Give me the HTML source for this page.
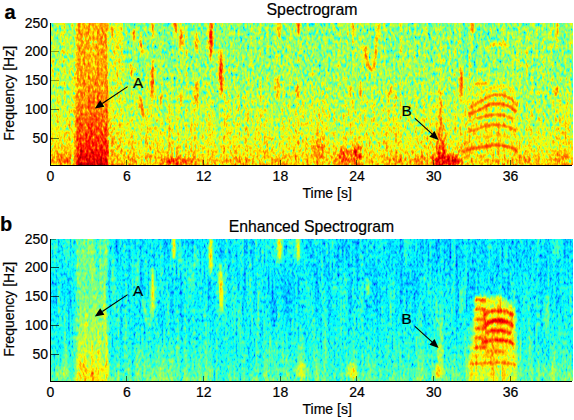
<!DOCTYPE html>
<html><head><meta charset="utf-8"><style>
html,body{margin:0;padding:0;background:#fff;width:574px;height:420px;overflow:hidden}
svg{display:block}
</style></head><body>
<svg width="574" height="420" viewBox="0 0 574 420">
<defs>
<filter id="ftop" filterUnits="userSpaceOnUse" x="45" y="17" width="534" height="154" color-interpolation-filters="sRGB">
<feGaussianBlur in="SourceGraphic" stdDeviation="0.8" result="b"/>
<feColorMatrix in="b" type="matrix" values="1 0 0 0 0 1 0 0 0 0 1 0 0 0 0 0 0 0 0 1" result="V"/>
<feColorMatrix in="b" type="matrix" values="0 1 0 0 0 0 1 0 0 0 0 1 0 0 0 0 0 0 0 1" result="M"/>
<feTurbulence type="fractalNoise" baseFrequency="0.42 0.22" numOctaves="2" seed="7" result="n"/>
<feColorMatrix in="n" type="matrix" values="1 0 0 0 0 1 0 0 0 0 1 0 0 0 0 0 0 0 0 1" result="ng0"/>
<feComponentTransfer in="ng0" result="ng"><feFuncR type="table" tableValues="0.05 0.17 0.28 0.37 0.44 0.5 0.546 0.59 0.632 0.674 0.717"/><feFuncG type="table" tableValues="0.05 0.17 0.28 0.37 0.44 0.5 0.546 0.59 0.632 0.674 0.717"/><feFuncB type="table" tableValues="0.05 0.17 0.28 0.37 0.44 0.5 0.546 0.59 0.632 0.674 0.717"/></feComponentTransfer>
<feComposite in="M" in2="ng" operator="arithmetic" k1="1" k2="-0.5" k3="0" k4="0.5" result="MN"/>
<feComposite in="V" in2="MN" operator="arithmetic" k1="0" k2="1" k3="1.0625" k4="-0.51625" result="F1"/>
<feTurbulence type="fractalNoise" baseFrequency="0.35 0.012" numOctaves="2" seed="12" result="st"/>
<feColorMatrix in="st" type="matrix" values="1 0 0 0 0 1 0 0 0 0 1 0 0 0 0 0 0 0 0 1" result="stg"/>
<feComposite in="M" in2="stg" operator="arithmetic" k1="1" k2="-0.5" k3="0" k4="0.5" result="MS"/>
<feComposite in="F1" in2="MS" operator="arithmetic" k1="0" k2="1" k3="0.25" k4="-0.125"/>
<feComponentTransfer>
<feFuncR type="table" tableValues="0 0 0 0 0.5 1 1 1 0.5"/>
<feFuncG type="table" tableValues="0 0 0.5 1 1 1 0.5 0 0"/>
<feFuncB type="table" tableValues="0.5 1 1 1 0.5 0 0 0 0"/>
<feFuncA type="linear" slope="0" intercept="1"/>
</feComponentTransfer>
</filter>
<filter id="fbot" filterUnits="userSpaceOnUse" x="45" y="233" width="534" height="154" color-interpolation-filters="sRGB">
<feGaussianBlur in="SourceGraphic" stdDeviation="0.8" result="b"/>
<feColorMatrix in="b" type="matrix" values="1 0 0 0 0 1 0 0 0 0 1 0 0 0 0 0 0 0 0 1" result="V"/>
<feColorMatrix in="b" type="matrix" values="0 1 0 0 0 0 1 0 0 0 0 1 0 0 0 0 0 0 0 1" result="M"/>
<feTurbulence type="fractalNoise" baseFrequency="0.5 0.22" numOctaves="2" seed="11" result="n"/>
<feColorMatrix in="n" type="matrix" values="1 0 0 0 0 1 0 0 0 0 1 0 0 0 0 0 0 0 0 1" result="ng0"/>
<feComponentTransfer in="ng0" result="ng"><feFuncR type="table" tableValues="0.05 0.17 0.28 0.37 0.44 0.5 0.546 0.59 0.632 0.674 0.717"/><feFuncG type="table" tableValues="0.05 0.17 0.28 0.37 0.44 0.5 0.546 0.59 0.632 0.674 0.717"/><feFuncB type="table" tableValues="0.05 0.17 0.28 0.37 0.44 0.5 0.546 0.59 0.632 0.674 0.717"/></feComponentTransfer>
<feComposite in="M" in2="ng" operator="arithmetic" k1="1" k2="-0.5" k3="0" k4="0.5" result="MN"/>
<feComposite in="V" in2="MN" operator="arithmetic" k1="0" k2="1" k3="0.6875" k4="-0.33375" result="F1"/>
<feTurbulence type="fractalNoise" baseFrequency="0.25 0.015" numOctaves="2" seed="16" result="st"/>
<feColorMatrix in="st" type="matrix" values="1 0 0 0 0 1 0 0 0 0 1 0 0 0 0 0 0 0 0 1" result="stg"/>
<feComposite in="M" in2="stg" operator="arithmetic" k1="1" k2="-0.5" k3="0" k4="0.5" result="MS"/>
<feComposite in="F1" in2="MS" operator="arithmetic" k1="0" k2="1" k3="0.27499999999999997" k4="-0.13749999999999998"/>
<feComponentTransfer>
<feFuncR type="table" tableValues="0 0 0 0 0.5 1 1 1 0.5"/>
<feFuncG type="table" tableValues="0 0 0.5 1 1 1 0.5 0 0"/>
<feFuncB type="table" tableValues="0.5 1 1 1 0.5 0 0 0 0"/>
<feFuncA type="linear" slope="0" intercept="1"/>
</feComponentTransfer>
</filter>
<filter id="stop" filterUnits="userSpaceOnUse" x="45" y="17" width="534" height="154" color-interpolation-filters="sRGB">
<feMorphology in="SourceGraphic" operator="dilate" radius="3" result="d"/>
<feComponentTransfer in="d" result="bo"><feFuncA type="linear" slope="0" intercept="1"/></feComponentTransfer>
<feGaussianBlur in="SourceAlpha" stdDeviation="0.9" result="b"/>
<feTurbulence type="fractalNoise" baseFrequency="0.42 0.25" numOctaves="2" seed="21" result="n"/>
<feColorMatrix in="n" type="matrix" values="1 0 0 0 0 1 0 0 0 0 1 0 0 0 0 0 0 0 0 1" result="ng"/>
<feComposite in="bo" in2="ng" operator="arithmetic" k1="0" k2="1" k3="0.25" k4="-0.125" result="s"/>
<feComponentTransfer>
<feFuncR type="table" tableValues="0 0 0 0 0.5 1 1 1 0.5"/>
<feFuncG type="table" tableValues="0 0 0.5 1 1 1 0.5 0 0"/>
<feFuncB type="table" tableValues="0.5 1 1 1 0.5 0 0 0 0"/>
<feFuncA type="linear" slope="0" intercept="1"/>
</feComponentTransfer>
<feComposite in2="b" operator="in"/>
</filter>
<filter id="sbot" filterUnits="userSpaceOnUse" x="45" y="233" width="534" height="154" color-interpolation-filters="sRGB">
<feMorphology in="SourceGraphic" operator="dilate" radius="3" result="d"/>
<feComponentTransfer in="d" result="bo"><feFuncA type="linear" slope="0" intercept="1"/></feComponentTransfer>
<feGaussianBlur in="SourceAlpha" stdDeviation="0.9" result="b"/>
<feTurbulence type="fractalNoise" baseFrequency="0.42 0.25" numOctaves="2" seed="23" result="n"/>
<feColorMatrix in="n" type="matrix" values="1 0 0 0 0 1 0 0 0 0 1 0 0 0 0 0 0 0 0 1" result="ng"/>
<feComposite in="bo" in2="ng" operator="arithmetic" k1="0" k2="1" k3="0.25" k4="-0.125" result="s"/>
<feComponentTransfer>
<feFuncR type="table" tableValues="0 0 0 0 0.5 1 1 1 0.5"/>
<feFuncG type="table" tableValues="0 0 0.5 1 1 1 0.5 0 0"/>
<feFuncB type="table" tableValues="0.5 1 1 1 0.5 0 0 0 0"/>
<feFuncA type="linear" slope="0" intercept="1"/>
</feComponentTransfer>
<feComposite in2="b" operator="in"/>
</filter>
<filter id="soft2" x="-20%" y="-20%" width="140%" height="140%"><feGaussianBlur stdDeviation="1.6"/></filter>
<filter id="soft4" x="-30%" y="-30%" width="160%" height="160%"><feGaussianBlur stdDeviation="4"/></filter>
<clipPath id="ctop"><rect x="51" y="23" width="522" height="142"/></clipPath>
<clipPath id="cbot"><rect x="51" y="239" width="522" height="142"/></clipPath>
<linearGradient id="tbg" x1="0" y1="0" x2="0" y2="1"><stop offset="0" stop-color="#80cc00"/><stop offset="0.4" stop-color="#85cc00"/><stop offset="0.62" stop-color="#8fcc00"/><stop offset="0.75" stop-color="#95cc00"/><stop offset="0.85" stop-color="#9ccc00"/><stop offset="0.93" stop-color="#a6cc00"/><stop offset="1" stop-color="#b0cc00"/></linearGradient><linearGradient id="tleft" x1="0" y1="0" x2="0" y2="1"><stop offset="0" stop-color="#87cc00"/><stop offset="0.5" stop-color="#8fcc00"/><stop offset="0.75" stop-color="#9ccc00"/><stop offset="0.9" stop-color="#a8cc00"/><stop offset="1" stop-color="#b5cc00"/></linearGradient><linearGradient id="tA" x1="0" y1="0" x2="0" y2="1"><stop offset="0" stop-color="#b19900"/><stop offset="0.3" stop-color="#b29900"/><stop offset="0.55" stop-color="#bb9900"/><stop offset="0.72" stop-color="#c79900"/><stop offset="0.84" stop-color="#d49900"/><stop offset="0.9" stop-color="#de9900"/><stop offset="0.95" stop-color="#e89900"/><stop offset="1" stop-color="#f09900"/></linearGradient><linearGradient id="tAr" x1="0" y1="0" x2="0" y2="1"><stop offset="0" stop-color="#91cc00"/><stop offset="0.6" stop-color="#96cc00"/><stop offset="1" stop-color="#b0cc00"/></linearGradient><linearGradient id="tB" x1="0" y1="0" x2="0" y2="1"><stop offset="0" stop-color="#8acc00"/><stop offset="0.3" stop-color="#94cc00"/><stop offset="0.5" stop-color="#a8cc00"/><stop offset="0.65" stop-color="#c2cc00"/><stop offset="0.82" stop-color="#d9cc00"/><stop offset="1" stop-color="#ebcc00"/></linearGradient><radialGradient id="r86"><stop offset="0" stop-color="#dbcc00"/><stop offset="0.55" stop-color="#dbcc00" stop-opacity="0.75"/><stop offset="1" stop-color="#dbcc00" stop-opacity="0"/></radialGradient><radialGradient id="r88"><stop offset="0" stop-color="#e0cc00"/><stop offset="0.55" stop-color="#e0cc00" stop-opacity="0.75"/><stop offset="1" stop-color="#e0cc00" stop-opacity="0"/></radialGradient><radialGradient id="r70"><stop offset="0" stop-color="#b2cc00"/><stop offset="0.55" stop-color="#b2cc00" stop-opacity="0.75"/><stop offset="1" stop-color="#b2cc00" stop-opacity="0"/></radialGradient><radialGradient id="r82"><stop offset="0" stop-color="#d1cc00"/><stop offset="0.55" stop-color="#d1cc00" stop-opacity="0.75"/><stop offset="1" stop-color="#d1cc00" stop-opacity="0"/></radialGradient><radialGradient id="r76"><stop offset="0" stop-color="#c2cc00"/><stop offset="0.55" stop-color="#c2cc00" stop-opacity="0.75"/><stop offset="1" stop-color="#c2cc00" stop-opacity="0"/></radialGradient><radialGradient id="r74"><stop offset="0" stop-color="#bdcc00"/><stop offset="0.55" stop-color="#bdcc00" stop-opacity="0.75"/><stop offset="1" stop-color="#bdcc00" stop-opacity="0"/></radialGradient><radialGradient id="r72"><stop offset="0" stop-color="#b8cc00"/><stop offset="0.55" stop-color="#b8cc00" stop-opacity="0.75"/><stop offset="1" stop-color="#b8cc00" stop-opacity="0"/></radialGradient><radialGradient id="r80"><stop offset="0" stop-color="#cccc00"/><stop offset="0.55" stop-color="#cccc00" stop-opacity="0.75"/><stop offset="1" stop-color="#cccc00" stop-opacity="0"/></radialGradient><linearGradient id="tHbg" x1="0" y1="0" x2="0" y2="1"><stop offset="0" stop-color="#8ccc00"/><stop offset="0.5" stop-color="#94cc00"/><stop offset="1" stop-color="#9ecc00"/></linearGradient><linearGradient id="bbg" x1="0" y1="0" x2="0" y2="1"><stop offset="0" stop-color="#5bcc00"/><stop offset="0.45" stop-color="#5dcc00"/><stop offset="0.68" stop-color="#63cc00"/><stop offset="0.84" stop-color="#6ecc00"/><stop offset="1" stop-color="#7dcc00"/></linearGradient><linearGradient id="bL" x1="0" y1="0" x2="0" y2="1"><stop offset="0" stop-color="#5ecc00"/><stop offset="0.7" stop-color="#63cc00"/><stop offset="1" stop-color="#75cc00"/></linearGradient><linearGradient id="bA" x1="0" y1="0" x2="0" y2="1"><stop offset="0" stop-color="#75cc00"/><stop offset="0.4" stop-color="#7acc00"/><stop offset="0.6" stop-color="#87cc00"/><stop offset="0.8" stop-color="#91cc00"/><stop offset="0.92" stop-color="#9ccc00"/><stop offset="1" stop-color="#a8cc00"/></linearGradient><linearGradient id="bR" x1="0" y1="0" x2="0" y2="1"><stop offset="0" stop-color="#58cc00"/><stop offset="0.6" stop-color="#59cc00"/><stop offset="1" stop-color="#5dcc00"/></linearGradient><linearGradient id="bH" x1="0" y1="0" x2="0" y2="1"><stop offset="0" stop-color="#99cc00"/><stop offset="0.3" stop-color="#9ecc00"/><stop offset="1" stop-color="#a1cc00"/></linearGradient><linearGradient id="bH2" x1="0" y1="0" x2="0" y2="1"><stop offset="0" stop-color="#99cc00"/><stop offset="1" stop-color="#8fcc00"/></linearGradient><radialGradient id="r66"><stop offset="0" stop-color="#a8cc00"/><stop offset="0.55" stop-color="#a8cc00" stop-opacity="0.75"/><stop offset="1" stop-color="#a8cc00" stop-opacity="0"/></radialGradient><radialGradient id="r62"><stop offset="0" stop-color="#9ecc00"/><stop offset="0.55" stop-color="#9ecc00" stop-opacity="0.75"/><stop offset="1" stop-color="#9ecc00" stop-opacity="0"/></radialGradient><radialGradient id="r60"><stop offset="0" stop-color="#99cc00"/><stop offset="0.55" stop-color="#99cc00" stop-opacity="0.75"/><stop offset="1" stop-color="#99cc00" stop-opacity="0"/></radialGradient><radialGradient id="r55"><stop offset="0" stop-color="#8ccc00"/><stop offset="0.55" stop-color="#8ccc00" stop-opacity="0.75"/><stop offset="1" stop-color="#8ccc00" stop-opacity="0"/></radialGradient><radialGradient id="r57"><stop offset="0" stop-color="#94cc00"/><stop offset="0.55" stop-color="#94cc00" stop-opacity="0.75"/><stop offset="1" stop-color="#94cc00" stop-opacity="0"/></radialGradient><radialGradient id="r50"><stop offset="0" stop-color="#80cc00"/><stop offset="0.55" stop-color="#80cc00" stop-opacity="0.75"/><stop offset="1" stop-color="#80cc00" stop-opacity="0"/></radialGradient><radialGradient id="r48"><stop offset="0" stop-color="#7acc00"/><stop offset="0.55" stop-color="#7acc00" stop-opacity="0.75"/><stop offset="1" stop-color="#7acc00" stop-opacity="0"/></radialGradient>
</defs>
<g clip-path="url(#ctop)"><g filter="url(#ftop)">
<rect x="43" y="15" width="538" height="158" fill="url(#tbg)"/>
<rect x="43" y="15" width="33" height="158" fill="url(#tleft)"/>
<rect x="76" y="15" width="32" height="158" fill="url(#tA)"/>
<rect x="108" y="15" width="14" height="158" fill="url(#tAr)"/>
<rect x="437" y="88" width="9" height="85" fill="url(#tB)"/>
<ellipse cx="452" cy="161" rx="13" ry="9" fill="url(#r86)"/>
<ellipse cx="440" cy="160" rx="12" ry="8" fill="url(#r88)"/>
<ellipse cx="462" cy="150" rx="7" ry="12" fill="url(#r70)" opacity="0.7"/>
<ellipse cx="175" cy="162" rx="16" ry="7" fill="url(#r82)"/>
<ellipse cx="190" cy="160" rx="10" ry="6" fill="url(#r76)" opacity="0.8"/>
<ellipse cx="162" cy="160" rx="8" ry="6" fill="url(#r74)" opacity="0.8"/>
<ellipse cx="318" cy="150" rx="10" ry="18" fill="url(#r72)" opacity="0.8"/>
<ellipse cx="343" cy="157" rx="10" ry="12" fill="url(#r80)"/>
<ellipse cx="356" cy="155" rx="8" ry="13" fill="url(#r80)"/>
<ellipse cx="395" cy="160" rx="14" ry="6" fill="url(#r74)" opacity="0.8"/>
<ellipse cx="420" cy="160" rx="10" ry="6" fill="url(#r76)" opacity="0.8"/>
<ellipse cx="130" cy="160" rx="8" ry="6" fill="url(#r72)" opacity="0.7"/>
<ellipse cx="240" cy="160" rx="12" ry="5" fill="url(#r72)" opacity="0.8"/>
<ellipse cx="280" cy="160" rx="10" ry="6" fill="url(#r72)" opacity="0.8"/>
<ellipse cx="525" cy="160" rx="12" ry="5" fill="url(#r74)" opacity="0.7"/>
<ellipse cx="560" cy="158" rx="12" ry="7" fill="url(#r74)" opacity="0.8"/>
<ellipse cx="63" cy="158" rx="12" ry="8" fill="url(#r76)" opacity="0.8"/>
<path d="M111.7,18 Q109.1,30.0 111.7,42 Q114.3,30.0 111.7,18Z" fill="#bf8000"/>
<path d="M134,26 Q131.5,34.6 134.5,43 Q137.0,34.4 134,26Z" fill="#c98000"/>
<path d="M139,33 Q138.0,46.0 143,58 Q144.0,45.0 139,33Z" fill="#c98000"/>
<path d="M131.3,62 Q128.6,69.5 131.5,77 Q134.2,69.5 131.3,62Z" fill="#c98000"/>
<path d="M152.5,58 Q148.9,81.0 152,104 Q155.6,81.0 152.5,58Z" fill="#d48000"/>
<path d="M152.5,18 Q149.7,29.0 152.5,40 Q155.3,29.0 152.5,18Z" fill="#c48000"/>
<path d="M175.7,16 Q172.3,27.0 175.7,38 Q179.1,27.0 175.7,16Z" fill="#cf8000"/>
<path d="M181,25 Q178.3,39.1 181.5,53 Q184.2,38.9 181,25Z" fill="#c98000"/>
<path d="M181,90 Q178.2,99.0 181,108 Q183.8,99.0 181,90Z" fill="#c48000"/>
<path d="M196.6,30 Q193.6,42.0 196.6,54 Q199.6,42.0 196.6,30Z" fill="#c78000"/>
<path d="M196.6,77 Q193.6,94.5 196.6,112 Q199.6,94.5 196.6,77Z" fill="#c78000"/>
<path d="M211,14 Q206.9,38.0 210.7,62 Q214.8,38.0 211,14Z" fill="#de8000"/>
<path d="M220.6,45 Q217.1,73.1 221.5,101 Q225.0,72.9 220.6,45Z" fill="#db8000"/>
<path d="M161.4,90 Q159.0,99.0 161.4,108 Q163.8,99.0 161.4,90Z" fill="#ba8000"/>
<path d="M139,93 Q138.9,108.1 145,122 Q145.1,106.9 139,93Z" fill="#c98000"/>
<path d="M279.5,16 Q276.5,29.0 279.5,42 Q282.5,29.0 279.5,16Z" fill="#c48000"/>
<path d="M298.2,16 Q294.8,27.0 298.2,38 Q301.6,27.0 298.2,16Z" fill="#cc8000"/>
<path d="M277.7,72 Q274.9,87.0 278,102 Q280.8,87.0 277.7,72Z" fill="#c78000"/>
<path d="M297.3,82 Q294.3,91.0 297.3,100 Q300.3,91.0 297.3,82Z" fill="#c78000"/>
<path d="M352.7,16 Q350.1,27.0 352.7,38 Q355.3,27.0 352.7,16Z" fill="#bf8000"/>
<path d="M360.7,82 Q358.1,91.0 360.7,100 Q363.3,91.0 360.7,82Z" fill="#bf8000"/>
<path d="M472.7,16 Q469.5,26.5 473,37 Q476.2,26.5 472.7,16Z" fill="#cc8000"/>
<path d="M462,64 Q457.3,83.9 460.5,104 Q465.2,84.1 462,64Z" fill="#c98000"/>
<path d="M556.8,16 Q553.4,34.0 556.8,52 Q560.2,34.0 556.8,16Z" fill="#b58000"/>
<path d="M556,85 Q552.8,91.5 556,98 Q559.2,91.5 556,85Z" fill="#c48000"/>
<path d="M440.5,80 Q437.9,115.0 440.5,150 Q443.1,115.0 440.5,80Z" fill="#c48000"/>
<path d="M386,99 Q392.9,92.4 395,83 Q388.1,89.6 386,99Z" fill="#bf8000"/>
<path d="M349.5,84 Q347.2,91.6 350,99 Q352.3,91.4 349.5,84Z" fill="#bf8000"/>
<path d="M365.5,48.0 C365.7,50.0 365.9,56.8 366.5,60.0 C367.1,63.2 368.0,65.3 369.0,67.0 C370.0,68.7 371.9,69.5 372.5,70.0" fill="none" stroke="#bf8000" stroke-width="3.4" stroke-linecap="round"/>
<path d="M372.5,70.0 C372.9,68.0 374.3,62.7 375.0,58.0 C375.7,53.3 376.1,47.5 376.6,42.0 C377.1,36.5 377.8,27.8 378.0,25.0" fill="none" stroke="#ba8000" stroke-width="2.8" stroke-linecap="round"/>
<path d="M486.0,48.5 C487.2,47.9 490.5,45.7 493.0,45.0 C495.5,44.3 498.3,44.2 501.0,44.5 C503.7,44.8 507.7,46.2 509.0,46.5" fill="none" stroke="#ad9900" stroke-width="2.8" stroke-linecap="round"/>
<rect x="466" y="78" width="52" height="80" fill="url(#tHbg)" opacity="0.9"/>
<path d="M475.1,84.4 C475.9,84.3 478.2,84.0 480.0,83.8 C481.8,83.6 484.9,83.5 485.9,83.4" fill="none" stroke="#c22600" stroke-width="2.4960000000000004" stroke-linecap="round"/>
<path d="M474.0,95.0 C476.2,94.2 483.2,92.0 487.0,90.5 C490.8,89.0 493.5,86.5 497.0,86.0 C500.5,85.5 505.0,86.3 508.0,87.5 C511.0,88.7 513.8,92.1 515.0,93.0" fill="none" stroke="#ab2600" stroke-width="2.028" stroke-linecap="round"/>
<path d="M471.0,107.5 C472.2,106.7 475.7,104.0 478.0,102.5 C480.3,101.0 482.6,99.7 485.0,98.5 C487.4,97.3 490.2,96.2 492.4,95.5 C494.6,94.8 495.8,94.5 498.0,94.6 C500.2,94.7 503.1,95.1 505.4,96.0 C507.7,96.9 510.1,98.3 512.0,100.0 C513.9,101.7 515.8,105.0 516.6,106.0" fill="none" stroke="#c92600" stroke-width="2.964" stroke-linecap="round"/>
<path d="M469.0,113.5 C470.5,113.0 474.6,112.0 478.0,110.5 C481.4,109.0 486.7,105.7 489.5,104.6 C492.3,103.5 492.9,104.0 495.0,103.9 C497.1,103.8 499.5,103.5 502.0,104.0 C504.5,104.5 507.7,105.5 510.0,106.8 C512.3,108.0 515.0,110.7 516.0,111.5" fill="none" stroke="#cf2600" stroke-width="3.2760000000000002" stroke-linecap="round"/>
<path d="M476.3,118.2 C477.6,117.9 481.6,116.8 484.0,116.3 C486.4,115.8 488.5,115.3 491.0,115.0 C493.5,114.7 496.5,114.5 499.0,114.6 C501.5,114.7 503.7,115.1 506.0,115.8 C508.3,116.5 511.5,118.0 512.6,118.5" fill="none" stroke="#c72600" stroke-width="2.8080000000000003" stroke-linecap="round"/>
<path d="M469.6,131.4 C470.8,131.0 474.6,130.0 477.0,129.2 C479.4,128.4 481.4,127.2 484.0,126.5 C486.6,125.8 489.7,125.2 492.4,125.0 C495.1,124.8 497.6,124.8 500.0,125.0 C502.4,125.2 504.4,125.5 507.0,126.4 C509.6,127.3 513.9,129.6 515.3,130.2" fill="none" stroke="#c92600" stroke-width="2.964" stroke-linecap="round"/>
<path d="M476.0,138.0 C477.7,137.7 482.8,136.4 486.0,136.0 C489.2,135.6 492.0,135.3 495.0,135.3 C498.0,135.3 501.3,135.4 504.0,135.8 C506.7,136.2 509.8,137.5 511.0,137.8" fill="none" stroke="#b02600" stroke-width="2.1839999999999997" stroke-linecap="round"/>
<path d="M464.3,151.2 C465.6,150.8 469.4,149.7 472.0,149.0 C474.6,148.3 477.0,147.8 480.0,147.2 C483.0,146.6 486.8,145.9 490.0,145.6 C493.2,145.3 496.0,145.2 499.0,145.4 C502.0,145.6 505.5,146.1 508.0,146.6 C510.5,147.1 512.5,147.8 514.0,148.6 C515.5,149.4 516.6,151.1 517.1,151.6" fill="none" stroke="#cf2600" stroke-width="3.12" stroke-linecap="round"/>
</g><g filter="url(#stop)">

</g></g>
<g clip-path="url(#cbot)"><g filter="url(#fbot)">
<rect x="43" y="231" width="538" height="158" fill="url(#bbg)"/>
<g filter="url(#soft2)"><rect x="43" y="231" width="31" height="158" fill="url(#bL)"/></g>
<rect x="76" y="231" width="32" height="158" fill="url(#bA)"/>
<g filter="url(#soft4)"><rect x="300" y="231" width="285" height="70" fill="url(#bR)"/></g>
<g filter="url(#soft2)"><polygon points="475,296 502,296 515,308 516,367 470,367" fill="url(#bH)"/></g>
<g filter="url(#soft2)"><rect x="470" y="358" width="46" height="27" fill="url(#bH2)"/></g>
<path d="M484.0,315.0 C485.0,314.4 487.7,312.2 490.0,311.5 C492.3,310.8 495.3,310.5 498.0,310.5 C500.7,310.5 503.7,310.8 506.0,311.5 C508.3,312.2 511.0,314.0 512.0,314.5" fill="none" stroke="#d18000" stroke-width="4.2" stroke-linecap="round"/>
<path d="M485.0,325.0 C486.0,324.4 488.8,322.2 491.0,321.5 C493.2,320.8 495.7,320.5 498.0,320.5 C500.3,320.5 502.7,320.8 505.0,321.5 C507.3,322.2 510.8,324.4 512.0,325.0" fill="none" stroke="#e08000" stroke-width="4.8" stroke-linecap="round"/>
<path d="M487.0,333.0 C488.0,332.6 490.7,330.9 493.0,330.5 C495.3,330.1 498.2,330.1 501.0,330.5 C503.8,330.9 508.5,332.6 510.0,333.0" fill="none" stroke="#d68000" stroke-width="4.0" stroke-linecap="round"/>
<path d="M483.0,342.5 C484.3,342.2 488.2,340.9 491.0,340.5 C493.8,340.1 497.2,339.9 500.0,340.0 C502.8,340.1 505.8,340.4 508.0,341.0 C510.2,341.6 512.2,343.1 513.0,343.5" fill="none" stroke="#d68000" stroke-width="4.0" stroke-linecap="round"/>
<path d="M488.0,352.0 C489.2,351.8 492.5,351.0 495.0,351.0 C497.5,351.0 501.7,351.8 503.0,352.0" fill="none" stroke="#c28000" stroke-width="3.6" stroke-linecap="round"/>
<path d="M471.0,364.0 C473.3,363.8 480.7,363.2 485.0,363.0 C489.3,362.8 493.3,362.5 497.0,362.5 C500.7,362.5 504.2,362.7 507.0,363.0 C509.8,363.3 512.8,364.2 514.0,364.5" fill="none" stroke="#c78000" stroke-width="3.2" stroke-linecap="round"/>
<path d="M490.0,321.5 C491.3,321.3 495.5,320.5 498.0,320.5 C500.5,320.5 503.8,321.3 505.0,321.5" fill="none" stroke="#eb8000" stroke-width="3.0" stroke-linecap="round"/>
<path d="M493.0,311.5 C493.8,311.4 496.3,311.0 498.0,311.0 C499.7,311.0 502.2,311.4 503.0,311.5" fill="none" stroke="#db8000" stroke-width="2.4" stroke-linecap="round"/>
<path d="M493.0,331.0 C494.0,331.0 497.2,330.8 499.0,330.8 C500.8,330.8 503.2,331.1 504.0,331.2" fill="none" stroke="#e08000" stroke-width="2.4" stroke-linecap="round"/>
<path d="M492.0,341.0 C493.2,340.9 496.8,340.5 499.0,340.5 C501.2,340.5 504.0,340.9 505.0,341.0" fill="none" stroke="#e08000" stroke-width="2.4" stroke-linecap="round"/>
<path d="M476.0,300.0 C476.8,299.9 479.0,299.7 480.5,299.7 C482.0,299.7 484.2,299.9 485.0,300.0" fill="none" stroke="#cc9900" stroke-width="3.6" stroke-linecap="round"/>
<path d="M476.0,309.5 C476.8,309.4 479.0,309.2 480.5,309.2 C482.0,309.2 484.2,309.4 485.0,309.5" fill="none" stroke="#cc9900" stroke-width="3.6" stroke-linecap="round"/>
<path d="M476.0,319.5 C476.8,319.4 479.0,319.2 480.5,319.2 C482.0,319.2 484.2,319.4 485.0,319.5" fill="none" stroke="#cc9900" stroke-width="3.6" stroke-linecap="round"/>
<path d="M476.0,328.5 C476.8,328.4 479.0,328.2 480.5,328.2 C482.0,328.2 484.2,328.4 485.0,328.5" fill="none" stroke="#cc9900" stroke-width="3.6" stroke-linecap="round"/>
<path d="M476.0,338.0 C476.8,337.9 479.0,337.7 480.5,337.7 C482.0,337.7 484.2,337.9 485.0,338.0" fill="none" stroke="#cc9900" stroke-width="3.6" stroke-linecap="round"/>
<path d="M476.0,347.5 C476.8,347.4 479.0,347.2 480.5,347.2 C482.0,347.2 484.2,347.4 485.0,347.5" fill="none" stroke="#cc9900" stroke-width="3.6" stroke-linecap="round"/>
<line x1="493" y1="335" x2="493" y2="381" stroke="#b8cc00" stroke-width="2.5" stroke-linecap="round"/>
<line x1="471" y1="366" x2="471" y2="381" stroke="#a8cc00" stroke-width="2.0" stroke-linecap="round"/>
<line x1="482" y1="366" x2="482" y2="381" stroke="#a8cc00" stroke-width="2.0" stroke-linecap="round"/>
<line x1="503" y1="366" x2="503" y2="381" stroke="#a8cc00" stroke-width="2.0" stroke-linecap="round"/>
<line x1="510" y1="366" x2="510" y2="381" stroke="#a8cc00" stroke-width="2.0" stroke-linecap="round"/>
<ellipse cx="91" cy="374" rx="7" ry="7" fill="url(#r70)"/>
<ellipse cx="83" cy="366" rx="5" ry="6" fill="url(#r66)"/>
<ellipse cx="104" cy="368" rx="5" ry="7" fill="url(#r66)"/>
<ellipse cx="96" cy="356" rx="6" ry="7" fill="url(#r62)" opacity="0.8"/>
<ellipse cx="352" cy="370" rx="8" ry="10" fill="url(#r60)" opacity="0.9"/>
<ellipse cx="301" cy="370" rx="9" ry="10" fill="url(#r55)" opacity="0.8"/>
<ellipse cx="439" cy="372" rx="6" ry="10" fill="url(#r70)"/>
<ellipse cx="440" cy="352" rx="4" ry="12" fill="url(#r57)" opacity="0.9"/>
<ellipse cx="354" cy="375" rx="5" ry="7" fill="url(#r66)" opacity="0.9"/>
<ellipse cx="61" cy="372" rx="10" ry="8" fill="url(#r50)" opacity="0.8"/>
<ellipse cx="160" cy="372" rx="10" ry="8" fill="url(#r48)" opacity="0.8"/>
<ellipse cx="210" cy="372" rx="14" ry="8" fill="url(#r48)" opacity="0.8"/>
<ellipse cx="545" cy="372" rx="16" ry="8" fill="url(#r50)" opacity="0.8"/>
<path d="M82,232 Q79.0,288.5 82,345 Q85.0,288.5 82,232Z" fill="#8a9900"/>
<path d="M92,232 Q89.0,288.5 92,345 Q95.0,288.5 92,232Z" fill="#8c9900"/>
<path d="M152.8,262 Q149.2,292.0 152.8,322 Q156.4,292.0 152.8,262Z" fill="#ab9900"/>
<path d="M173.7,232 Q170.5,247.0 174,262 Q177.2,247.0 173.7,232Z" fill="#a19900"/>
<path d="M181,242 Q178.3,258.5 181.5,275 Q184.2,258.5 181,242Z" fill="#829900"/>
<path d="M196.6,245 Q193.8,257.5 196.6,270 Q199.4,257.5 196.6,245Z" fill="#7d9900"/>
<path d="M210.7,230 Q206.8,255.0 210.5,280 Q214.4,255.0 210.7,230Z" fill="#b09900"/>
<path d="M220.6,258 Q217.3,288.1 221.5,318 Q224.8,287.9 220.6,258Z" fill="#b09900"/>
<path d="M279.5,230 Q276.1,248.0 279.5,266 Q282.9,248.0 279.5,230Z" fill="#ab9900"/>
<path d="M298.3,230 Q294.9,248.0 298.3,266 Q301.7,248.0 298.3,230Z" fill="#ab9900"/>
<path d="M368,276 Q365.0,288.0 368,300 Q371.0,288.0 368,276Z" fill="#969900"/>
<path d="M462,280 Q458.3,299.9 460.5,320 Q464.2,300.1 462,280Z" fill="#829900"/>
<path d="M556.8,230 Q553.8,248.0 556.8,266 Q559.8,248.0 556.8,230Z" fill="#879900"/>
<path d="M441,310 Q438.0,350.0 441,390 Q444.0,350.0 441,310Z" fill="#8f9900"/>
<path d="M137,248 Q134.6,270.0 137,292 Q139.4,270.0 137,248Z" fill="#789900"/>
<path d="M192.9,250 Q190.5,276.0 192.9,302 Q195.3,276.0 192.9,250Z" fill="#789900"/>
<path d="M112.7,250 Q110.3,275.0 112.7,300 Q115.1,275.0 112.7,250Z" fill="#759900"/>
<path d="M141,288 Q141.5,309.5 148,330 Q147.5,308.5 141,288Z" fill="#879900"/>
<path d="M240,300 Q237.8,342.5 240,385 Q242.2,342.5 240,300Z" fill="#739900"/>
<path d="M265,320 Q262.8,352.5 265,385 Q267.2,352.5 265,320Z" fill="#739900"/>
<path d="M325,300 Q322.8,342.5 325,385 Q327.2,342.5 325,300Z" fill="#739900"/>
<path d="M400,320 Q397.8,352.5 400,385 Q402.2,352.5 400,320Z" fill="#739900"/>
<path d="M420,290 Q417.8,337.5 420,385 Q422.2,337.5 420,290Z" fill="#739900"/>
<path d="M125,300 Q122.8,342.5 125,385 Q127.2,342.5 125,300Z" fill="#739900"/>
<path d="M548,290 Q545.4,317.5 548,345 Q550.6,317.5 548,290Z" fill="#7a9900"/>
<path d="M560,300 Q557.6,330.0 560,360 Q562.4,330.0 560,300Z" fill="#789900"/>
<path d="M530,320 Q527.8,352.5 530,385 Q532.2,352.5 530,320Z" fill="#759900"/>
</g></g>
<rect x="50" y="23" width="1" height="143" fill="#000"/><rect x="50" y="165" width="522" height="1" fill="#000"/><text x="48" y="27.9" text-anchor="end" font-family="Liberation Sans, sans-serif" stroke="#000" stroke-width="0.2" font-size="14">250</text><rect x="51" y="51" width="8" height="1" fill="#000" opacity="0.35"/><text x="48" y="56.4" text-anchor="end" font-family="Liberation Sans, sans-serif" stroke="#000" stroke-width="0.2" font-size="14">200</text><rect x="51" y="80" width="8" height="1" fill="#000" opacity="0.35"/><text x="48" y="85.4" text-anchor="end" font-family="Liberation Sans, sans-serif" stroke="#000" stroke-width="0.2" font-size="14">150</text><rect x="51" y="109" width="8" height="1" fill="#000" opacity="0.55"/><text x="48" y="114.4" text-anchor="end" font-family="Liberation Sans, sans-serif" stroke="#000" stroke-width="0.2" font-size="14">100</text><rect x="51" y="138" width="8" height="1" fill="#000" opacity="0.55"/><text x="48" y="143.1" text-anchor="end" font-family="Liberation Sans, sans-serif" stroke="#000" stroke-width="0.2" font-size="14">50</text><text x="50.3" y="180.6" text-anchor="middle" font-family="Liberation Sans, sans-serif" stroke="#000" stroke-width="0.2" font-size="14">0</text><rect x="126" y="160" width="1" height="5" fill="#000" opacity="0.6"/><text x="127.0" y="180.6" text-anchor="middle" font-family="Liberation Sans, sans-serif" stroke="#000" stroke-width="0.2" font-size="14">6</text><rect x="203" y="160" width="1" height="5" fill="#000" opacity="0.6"/><text x="203.7" y="180.6" text-anchor="middle" font-family="Liberation Sans, sans-serif" stroke="#000" stroke-width="0.2" font-size="14">12</text><rect x="280" y="160" width="1" height="5" fill="#000" opacity="0.6"/><text x="280.4" y="180.6" text-anchor="middle" font-family="Liberation Sans, sans-serif" stroke="#000" stroke-width="0.2" font-size="14">18</text><rect x="356" y="160" width="1" height="5" fill="#000" opacity="0.6"/><text x="357.1" y="180.6" text-anchor="middle" font-family="Liberation Sans, sans-serif" stroke="#000" stroke-width="0.2" font-size="14">24</text><rect x="433" y="160" width="1" height="5" fill="#000" opacity="0.6"/><text x="433.8" y="180.6" text-anchor="middle" font-family="Liberation Sans, sans-serif" stroke="#000" stroke-width="0.2" font-size="14">30</text><rect x="510" y="160" width="1" height="5" fill="#000" opacity="0.6"/><text x="510.5" y="180.6" text-anchor="middle" font-family="Liberation Sans, sans-serif" stroke="#000" stroke-width="0.2" font-size="14">36</text><text x="327.2" y="198.1" text-anchor="middle" font-family="Liberation Sans, sans-serif" stroke="#000" stroke-width="0.2" font-size="14">Time [s]</text><text transform="translate(14.3 93.4) rotate(-90)" text-anchor="middle" font-family="Liberation Sans, sans-serif" stroke="#000" stroke-width="0.2" font-size="14">Frequency [Hz]</text><rect x="50" y="239" width="1" height="143" fill="#000"/><rect x="50" y="381" width="522" height="1" fill="#000"/><rect x="51" y="239" width="5" height="1" fill="#000" opacity="0.4"/><text x="48" y="243.9" text-anchor="end" font-family="Liberation Sans, sans-serif" stroke="#000" stroke-width="0.2" font-size="14">250</text><rect x="51" y="267" width="8" height="1" fill="#000" opacity="0.7"/><text x="48" y="272.4" text-anchor="end" font-family="Liberation Sans, sans-serif" stroke="#000" stroke-width="0.2" font-size="14">200</text><rect x="51" y="296" width="8" height="1" fill="#000" opacity="0.7"/><text x="48" y="301.4" text-anchor="end" font-family="Liberation Sans, sans-serif" stroke="#000" stroke-width="0.2" font-size="14">150</text><rect x="51" y="325" width="8" height="1" fill="#000" opacity="0.7"/><text x="48" y="330.4" text-anchor="end" font-family="Liberation Sans, sans-serif" stroke="#000" stroke-width="0.2" font-size="14">100</text><rect x="51" y="354" width="8" height="1" fill="#000" opacity="0.7"/><text x="48" y="359.1" text-anchor="end" font-family="Liberation Sans, sans-serif" stroke="#000" stroke-width="0.2" font-size="14">50</text><text x="50.3" y="396.6" text-anchor="middle" font-family="Liberation Sans, sans-serif" stroke="#000" stroke-width="0.2" font-size="14">0</text><rect x="126" y="376" width="1" height="5" fill="#000" opacity="0.6"/><text x="127.0" y="396.6" text-anchor="middle" font-family="Liberation Sans, sans-serif" stroke="#000" stroke-width="0.2" font-size="14">6</text><rect x="203" y="376" width="1" height="5" fill="#000" opacity="0.6"/><text x="203.7" y="396.6" text-anchor="middle" font-family="Liberation Sans, sans-serif" stroke="#000" stroke-width="0.2" font-size="14">12</text><rect x="280" y="376" width="1" height="5" fill="#000" opacity="0.6"/><text x="280.4" y="396.6" text-anchor="middle" font-family="Liberation Sans, sans-serif" stroke="#000" stroke-width="0.2" font-size="14">18</text><rect x="356" y="376" width="1" height="5" fill="#000" opacity="0.6"/><text x="357.1" y="396.6" text-anchor="middle" font-family="Liberation Sans, sans-serif" stroke="#000" stroke-width="0.2" font-size="14">24</text><rect x="433" y="376" width="1" height="5" fill="#000" opacity="0.6"/><text x="433.8" y="396.6" text-anchor="middle" font-family="Liberation Sans, sans-serif" stroke="#000" stroke-width="0.2" font-size="14">30</text><rect x="510" y="376" width="1" height="5" fill="#000" opacity="0.6"/><text x="510.5" y="396.6" text-anchor="middle" font-family="Liberation Sans, sans-serif" stroke="#000" stroke-width="0.2" font-size="14">36</text><text x="327.2" y="414.1" text-anchor="middle" font-family="Liberation Sans, sans-serif" stroke="#000" stroke-width="0.2" font-size="14">Time [s]</text><text transform="translate(14.3 309.4) rotate(-90)" text-anchor="middle" font-family="Liberation Sans, sans-serif" stroke="#000" stroke-width="0.2" font-size="14">Frequency [Hz]</text><text x="312" y="14.5" text-anchor="middle" font-family="Liberation Sans, sans-serif" stroke="#000" stroke-width="0.2" font-size="15.9">Spectrogram</text><text x="311.4" y="231.6" text-anchor="middle" font-family="Liberation Sans, sans-serif" stroke="#000" stroke-width="0.2" font-size="15.75">Enhanced Spectrogram</text><text x="4.6" y="18.7" font-family="Liberation Sans, sans-serif" stroke="#000" stroke-width="0.2" font-size="20" font-weight="bold">a</text><text x="0" y="230.7" font-family="Liberation Sans, sans-serif" stroke="#000" stroke-width="0.2" font-size="20" font-weight="bold">b</text>
<line x1="127.6" y1="86.6" x2="102.3" y2="103.5" stroke="#000" stroke-width="1.1"/><path d="M94.8,108.5 L100.2,100.3 L104.4,106.7 Z" fill="#000"/><text x="133.1" y="87.9" font-family="Liberation Sans, sans-serif" stroke="#000" stroke-width="0.2" font-size="15.3">A</text><line x1="414.9" y1="118.3" x2="432.0" y2="133.9" stroke="#000" stroke-width="1.1"/><path d="M438.6,140.0 L429.4,136.7 L434.5,131.1 Z" fill="#000"/><text x="401.4" y="116.0" font-family="Liberation Sans, sans-serif" stroke="#000" stroke-width="0.2" font-size="15.3">B</text><line x1="127.6" y1="294.6" x2="102.3" y2="311.5" stroke="#000" stroke-width="1.1"/><path d="M94.8,316.5 L100.2,308.3 L104.4,314.7 Z" fill="#000"/><text x="133.1" y="295.9" font-family="Liberation Sans, sans-serif" stroke="#000" stroke-width="0.2" font-size="15.3">A</text><line x1="414.9" y1="326.3" x2="432.0" y2="341.9" stroke="#000" stroke-width="1.1"/><path d="M438.6,348.0 L429.4,344.7 L434.5,339.1 Z" fill="#000"/><text x="401.4" y="324.0" font-family="Liberation Sans, sans-serif" stroke="#000" stroke-width="0.2" font-size="15.3">B</text>
</svg>
</body></html>
